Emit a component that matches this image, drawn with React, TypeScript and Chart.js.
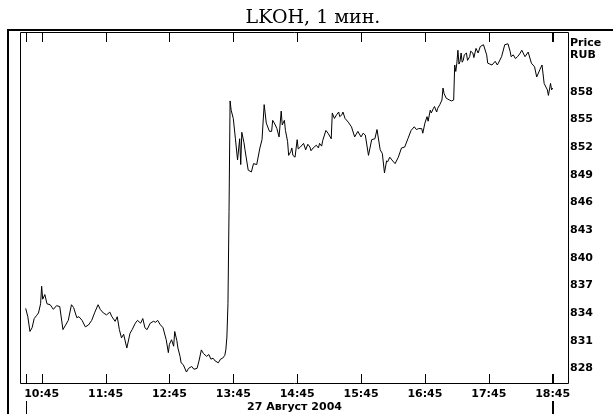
import React, { useEffect, useRef } from "react";
import { Chart, registerables } from "chart.js";

Chart.register(...registerables);

const chartTitle = "LKOH, 1 мин.";
const sessionStart = "10:30";
const sessionEnd = "18:45";
const dateLabel = "27 Август 2004";
const unitLines = ["Price", "RUB"];
const xTickLabels = ["10:45", "11:45", "12:45", "13:45", "14:45", "15:45", "16:45", "17:45", "18:45"];
const yTickValues = [828, 831, 834, 837, 840, 843, 846, 849, 852, 855, 858];

// minutes after the session start (10:30)
const minuteOffsets = [
  0, 2, 4, 6, 8, 10, 12, 14, 15, 16, 18, 20, 23, 26, 29, 32, 35, 37, 40, 43, 45, 48, 50, 53, 56, 59,
  62, 65, 68, 70, 73, 76, 79, 81, 84, 86, 88, 90, 92, 95, 98, 100, 103, 105, 108, 110, 112, 114, 117,
  120, 122, 124, 126, 129, 132, 134, 135, 137, 139, 140, 142, 143, 145, 146, 148, 151, 153, 156, 158,
  161, 163, 165, 167, 170, 172, 174, 176, 178, 181, 183, 185, 187, 188, 189, 190, 191, 192, 193, 195,
  197, 199, 201, 202, 203, 205, 206, 209, 212, 214, 217, 220, 222, 224, 226, 229, 231, 232, 234, 236,
  238, 240, 241, 243, 244, 246, 247, 249, 250, 251, 253, 255, 256, 258, 261, 263, 265, 267, 268, 270,
  273, 275, 276, 278, 279, 282, 284, 287, 288, 290, 292, 294, 295, 297, 298, 300, 303, 306, 309, 312,
  315, 317, 319, 322, 325, 328, 330, 333, 335, 337, 339, 340, 342, 344, 347, 350, 353, 356, 359, 362,
  365, 367, 369, 372, 373, 375, 377, 378, 380, 381, 383, 384, 386, 387, 389, 391, 392, 393, 395, 398,
  400, 402, 403, 404, 405, 406, 407, 408, 409, 410, 411, 412, 414, 415, 417, 418, 420, 421, 423, 425,
  427, 430, 433, 434, 436, 438, 441, 443, 444, 447, 450, 453, 455, 456, 458, 460, 462, 464, 466, 469,
  472, 475, 478, 480, 483, 485, 487, 490, 491, 493, 494, 495,
];

const prices = [
  834.5, 833.6, 832.0, 832.4, 833.4, 833.7, 834.0, 835.0, 836.9, 835.5, 836.0, 835.0, 834.9, 834.4, 834.8, 834.7, 832.2, 832.6, 833.2, 834.9, 834.6, 833.5, 833.6, 833.2, 832.5, 832.7,
  833.2, 834.1, 834.9, 834.4, 834.0, 833.8, 834.1, 833.6, 833.1, 833.6, 832.2, 831.3, 831.7, 830.2, 831.8, 832.2, 832.9, 833.2, 832.9, 833.4, 832.4, 832.2, 832.9,
  833.1, 833.0, 833.2, 832.8, 832.4, 831.1, 829.7, 830.6, 831.1, 830.4, 832.0, 831.0, 830.2, 829.3, 828.6, 828.4, 827.6, 828.0, 828.2, 827.9,
  828.0, 828.9, 830.0, 829.6, 829.3, 829.5, 829.0, 829.1, 828.8, 828.6, 829.0, 829.1, 829.4, 830.0, 831.4, 835.0, 845.0, 857.0, 856.0, 855.1,
  852.9, 850.6, 852.9, 850.1, 853.6, 852.5, 851.7, 849.5, 849.3, 850.2, 850.1, 851.9, 852.8, 856.6, 854.6, 853.7, 853.7, 854.9, 854.5, 854.0,
  853.1, 855.9, 854.4, 854.9, 853.8, 852.6, 851.1, 851.5, 851.9, 851.1, 850.9, 852.8, 851.8, 852.0, 852.4, 851.7, 852.3, 852.0, 851.6, 851.9,
  852.2, 851.9, 852.4, 852.1, 852.7, 853.8, 853.5, 852.9, 855.7, 855.1, 855.5, 855.8, 855.3, 855.5, 855.8, 855.1, 854.7, 854.2, 853.1, 853.7,
  853.1, 853.5, 853.3, 851.1, 852.8, 852.9, 853.9, 851.7, 851.3, 849.2, 850.5, 850.4, 850.9, 850.6, 850.2, 850.9, 851.9, 852.0, 852.9, 853.8,
  854.2, 853.9, 854.0, 854.0, 853.5, 854.6, 855.3, 854.8, 856.0, 855.7, 856.2, 856.4, 855.8, 856.2, 856.6, 857.1, 858.4, 857.8, 857.3, 857.1,
  857.0, 857.1, 860.9, 860.2, 861.1, 862.5, 861.0, 861.3, 862.2, 861.2, 861.4, 862.0, 862.2, 861.4, 861.8, 862.4, 862.2, 861.7, 862.7, 862.2,
  862.9, 863.1, 862.0, 861.1, 861.0, 860.9, 861.3, 860.9, 861.1, 861.8, 863.1, 863.2, 862.4, 861.8, 862.0, 861.6, 861.8, 862.1, 862.5, 861.8,
  862.3, 861.1, 860.7, 859.6, 860.4, 860.9, 858.9, 858.2, 857.6, 858.9, 858.2, 858.4,
];

const toMinutes = (t: string) => {
  const [h, m] = t.split(":").map(Number);
  return h * 60 + m;
};
const startMin = toMinutes(sessionStart);
const xTickMinutes = xTickLabels.map((t) => toMinutes(t) - startMin);
const endOffset = toMinutes(sessionEnd) - startMin;

const FONT = "DejaVu Sans";

const framePlugin = {
  id: "framePlugin",
  afterDraw(chart: any) {
    const { ctx, chartArea } = chart;
    const xs = chart.scales.x;
    const { left, top, right, bottom } = chartArea;
    ctx.save();
    ctx.strokeStyle = "#000";
    // outer frame
    ctx.lineWidth = 2;
    ctx.beginPath();
    ctx.moveTo(7, 30);
    ctx.lineTo(613, 30);
    ctx.moveTo(8, 29);
    ctx.lineTo(8, 414);
    ctx.stroke();
    // plot border
    ctx.lineWidth = 1;
    ctx.beginPath();
    ctx.moveTo(left - 0.5, top - 0.5);
    ctx.lineTo(right + 0.5, top - 0.5);
    ctx.lineTo(right + 0.5, bottom + 0.5);
    ctx.lineTo(left - 0.5, bottom + 0.5);
    ctx.closePath();
    ctx.stroke();
    // inner ticks
    const tickVals = [0, ...xTickMinutes];
    tickVals.forEach((v) => {
      const thick = v === endOffset;
      const px = Math.round(xs.getPixelForValue(v));
      ctx.lineWidth = thick ? 2 : 1;
      const x = thick ? px : px + 0.5;
      ctx.beginPath();
      ctx.moveTo(x, top);
      ctx.lineTo(x, top + 9);
      ctx.moveTo(x, bottom);
      ctx.lineTo(x, bottom - 9);
      ctx.stroke();
    });
    // session separators below labels
    [0, endOffset].forEach((v) => {
      const thick = v === endOffset;
      const px = Math.round(xs.getPixelForValue(v));
      ctx.lineWidth = thick ? 2 : 1;
      const x = thick ? px : px + 0.5;
      ctx.beginPath();
      ctx.moveTo(x, 401);
      ctx.lineTo(x, 414);
      ctx.stroke();
    });
    // texts
    ctx.fillStyle = "#000";
    ctx.font = "19px 'DejaVu Serif'";
    ctx.textAlign = "center";
    ctx.textBaseline = "middle";
    ctx.fillText(chartTitle, 313, 18);
    ctx.font = `bold 11px '${FONT}'`;
    ctx.textAlign = "left";
    unitLines.forEach((t, i) => ctx.fillText(t, right + 2, 43 + i * 12.5));
    ctx.restore();
  },
};

export default function App() {
  const ref = useRef<HTMLCanvasElement | null>(null);
  useEffect(() => {
    document.body.style.margin = "0";
    const canvas = ref.current;
    if (!canvas) return;
    const chart = new Chart(canvas, {
      type: "line",
      data: {
        datasets: [
          {
            data: minuteOffsets.map((m, i) => ({ x: m, y: prices[i] })),
            borderColor: "#000",
            borderWidth: 1,
            pointRadius: 0,
            tension: 0,
            fill: false,
          },
        ],
      },
      options: {
        animation: false,
        responsive: false,
        devicePixelRatio: 1,
        layout: { padding: { top: 33, left: 21, right: 0, bottom: 0 } },
        plugins: {
          legend: { display: false },
          tooltip: { enabled: false },
          title: { display: false },
        },
        scales: {
          x: {
            type: "linear",
            min: -4.4,
            max: 509.4,
            grid: { display: false, drawTicks: false },
            border: { display: false },
            afterBuildTicks: (s: any) => {
              s.ticks = xTickMinutes.map((v) => ({ value: v }));
            },
            afterFit: (s: any) => {
              s.height = 31;
            },
            ticks: {
              autoSkip: false,
              maxRotation: 0,
              padding: 5,
              color: "#000",
              font: { family: FONT, size: 11, weight: "bold" },
              callback: (v: any) => {
                const i = xTickMinutes.indexOf(Number(v));
                return i >= 0 ? xTickLabels[i] : "";
              },
            },
            title: {
              display: true,
              text: dateLabel,
              color: "#000",
              font: { family: FONT, size: 11, weight: "bold" },
              padding: 0,
            },
          },
          y: {
            position: "right",
            min: 826.41,
            max: 864.37,
            grid: { display: false, drawTicks: false },
            border: { display: false },
            afterBuildTicks: (s: any) => {
              s.ticks = yTickValues.map((v) => ({ value: v }));
            },
            afterFit: (s: any) => {
              s.width = 45;
            },
            ticks: {
              padding: 2,
              crossAlign: "near",
              color: "#000",
              font: { family: FONT, size: 11, weight: "bold" },
            },
          },
        },
      },
      plugins: [framePlugin],
    } as any);
    return () => chart.destroy();
  }, []);
  return <canvas ref={ref} width={613} height={414} style={{ display: "block" }} />;
}
